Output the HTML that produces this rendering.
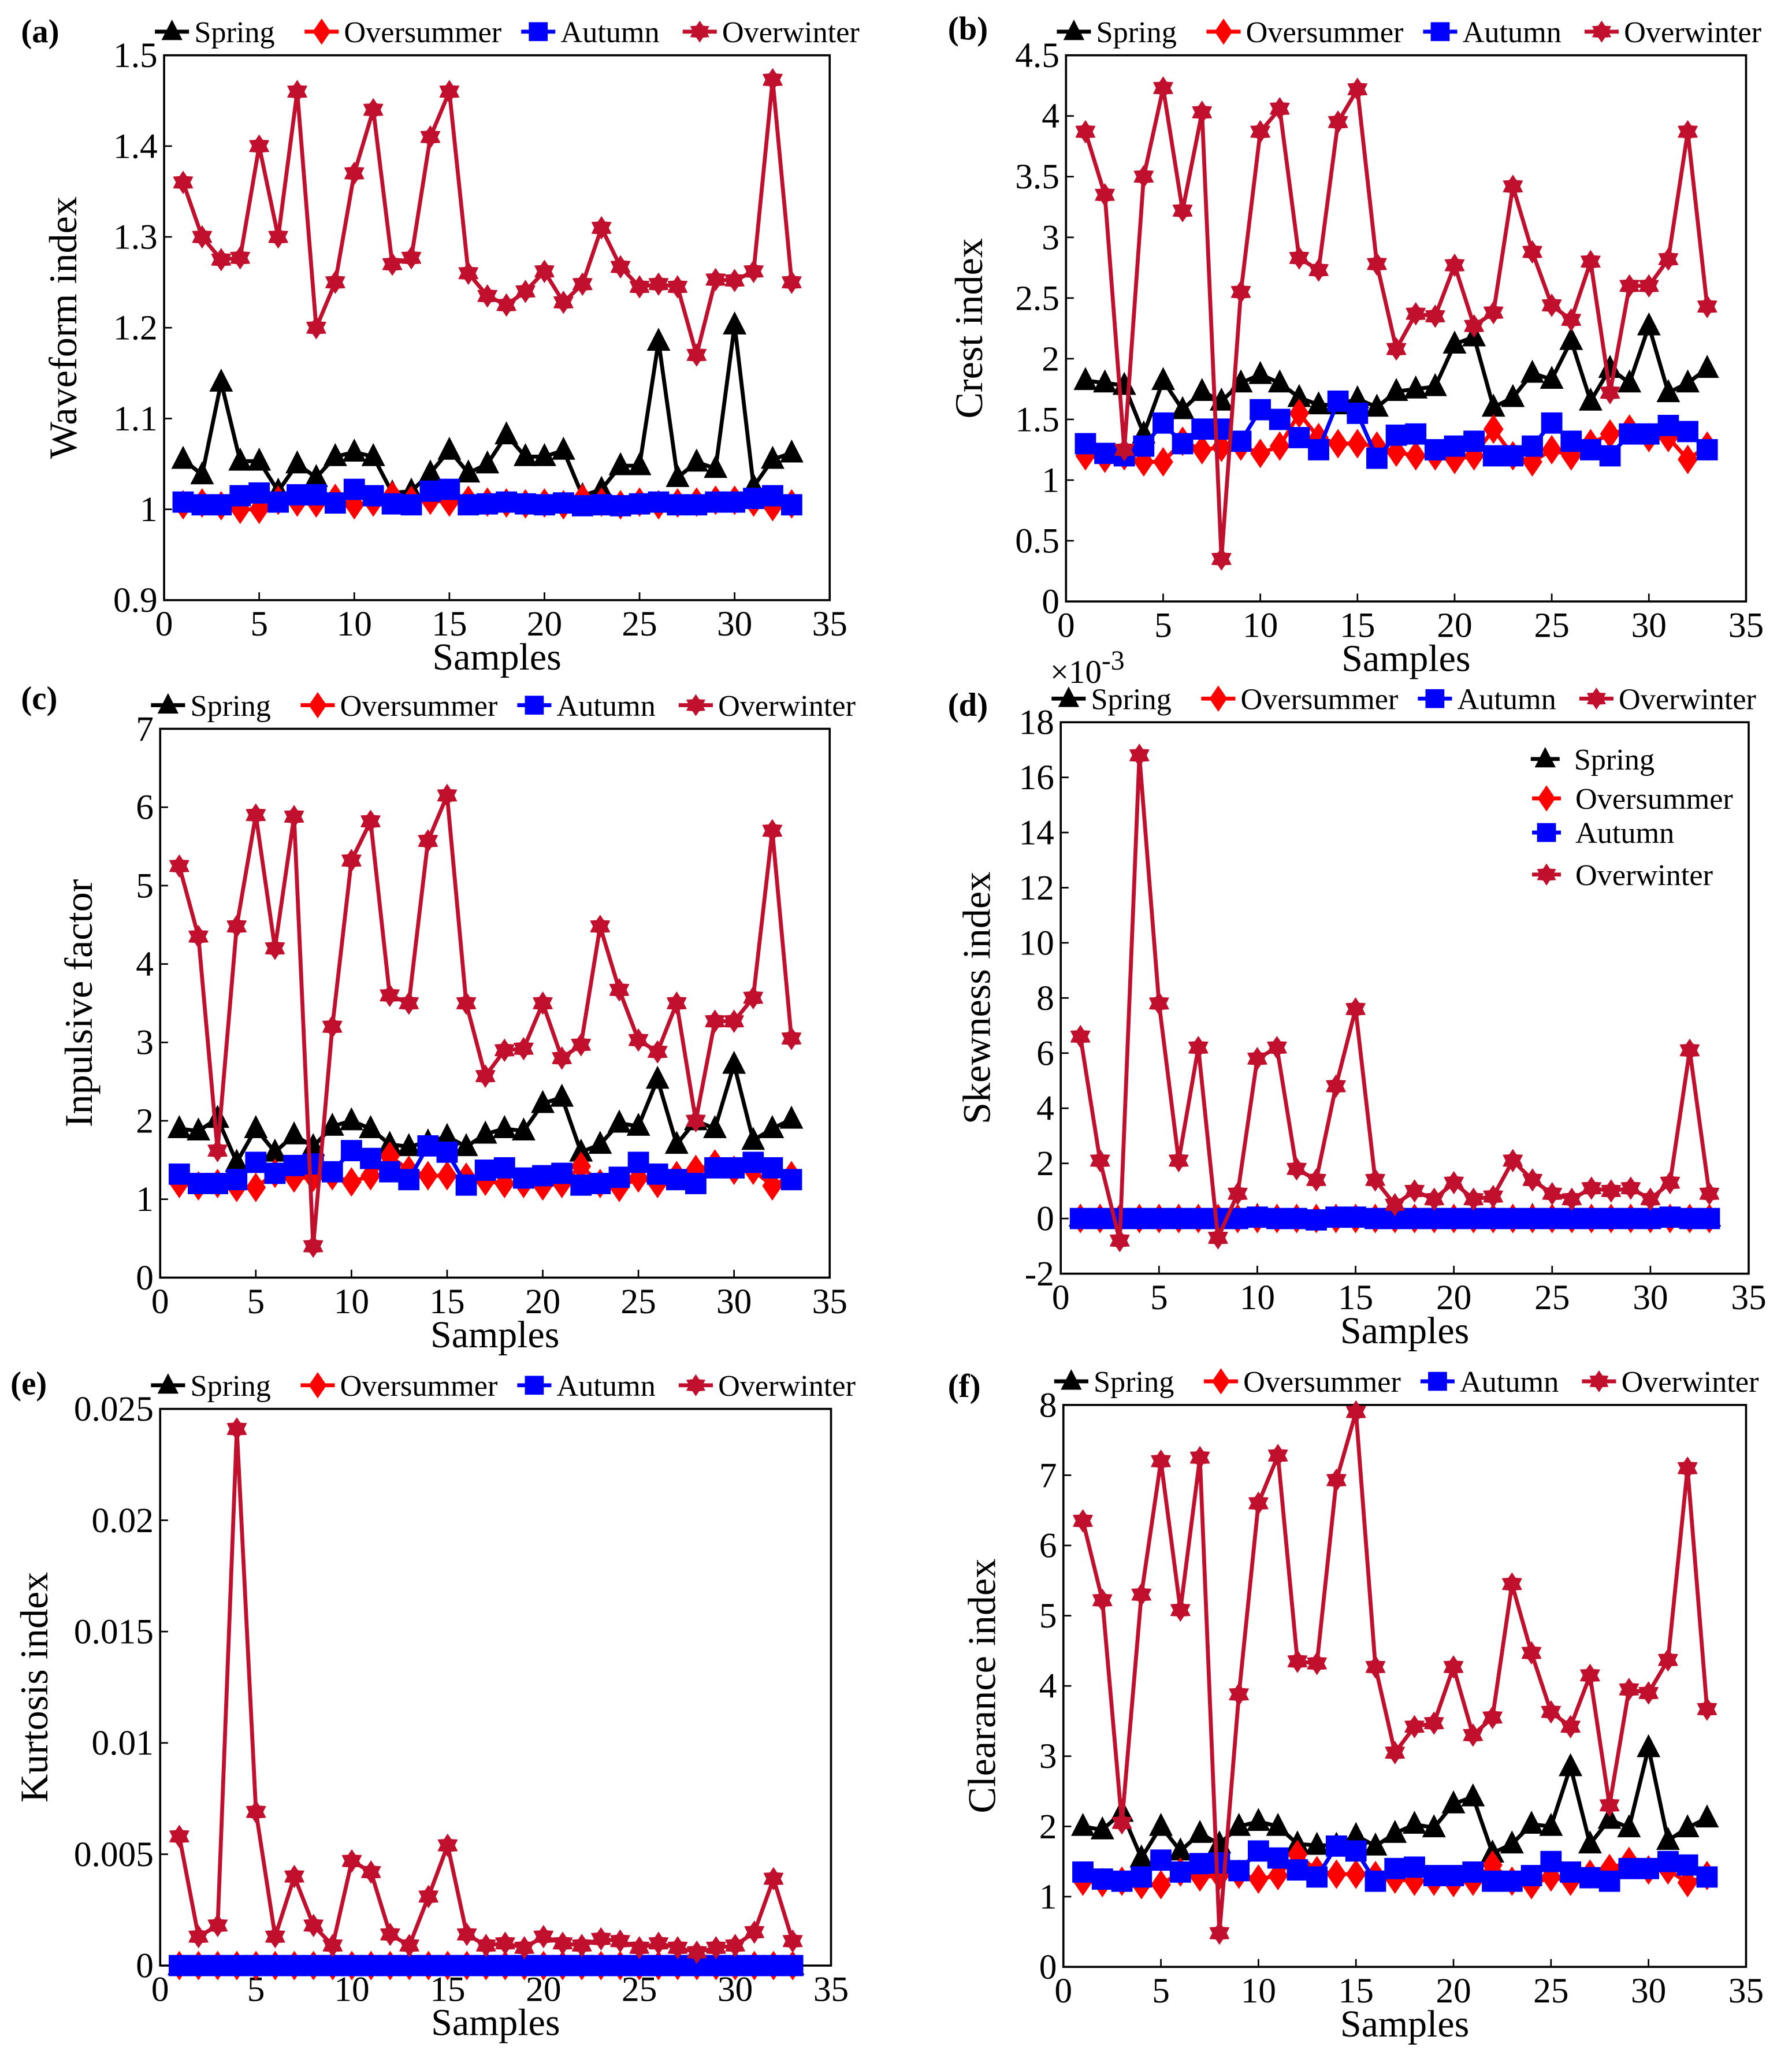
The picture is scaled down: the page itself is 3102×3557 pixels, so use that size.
<!DOCTYPE html>
<html><head><meta charset="utf-8">
<style>
html,body{margin:0;padding:0;background:#fff;}
svg{display:block;}
text{font-family:"Liberation Serif","Times New Roman",serif;fill:#000;}
</style></head>
<body>
<svg id="fig" width="3102" height="3557" viewBox="0 0 1365 1565" xmlns="http://www.w3.org/2000/svg"></svg>
<script>
const samples = Array.from({length:33},(_,i)=>i+1);
const xTicks = [0,5,10,15,20,25,30,35];
const seriesNames = ["Spring","Oversummer","Autumn","Overwinter"];

const aSpring=[1.055,1.038,1.14,1.053,1.053,1.02,1.05,1.035,1.058,1.063,1.058,1.018,1.02,1.04,1.065,1.04,1.05,1.082,1.058,1.058,1.065,1.015,1.022,1.048,1.048,1.185,1.035,1.052,1.045,1.203,1.025,1.055,1.062];
const aSummer=[1.005,1.007,1.004,1.0,1.0,1.01,1.008,1.007,1.012,1.005,1.008,1.015,1.01,1.01,1.008,1.01,1.008,1.007,1.006,1.007,1.005,1.012,1.008,1.005,1.008,1.005,1.007,1.008,1.01,1.01,1.008,1.003,1.006];
const aAutumn=[1.008,1.005,1.005,1.015,1.018,1.008,1.016,1.016,1.007,1.022,1.015,1.006,1.005,1.02,1.022,1.005,1.006,1.008,1.006,1.005,1.007,1.004,1.005,1.004,1.006,1.008,1.005,1.005,1.008,1.008,1.012,1.015,1.005];
const aWinter=[1.36,1.30,1.275,1.277,1.40,1.30,1.46,1.20,1.25,1.37,1.44,1.27,1.277,1.41,1.46,1.26,1.235,1.225,1.24,1.262,1.228,1.248,1.31,1.267,1.245,1.248,1.245,1.17,1.253,1.252,1.262,1.473,1.25];
const aTicks=[0.9,1,1.1,1.2,1.3,1.4,1.5];

const bSpring=[1.82,1.8,1.78,1.38,1.82,1.58,1.73,1.65,1.8,1.87,1.8,1.68,1.62,1.62,1.67,1.6,1.73,1.75,1.77,2.12,2.18,1.6,1.68,1.88,1.83,2.15,1.65,1.92,1.8,2.27,1.72,1.8,1.92];
const bSummer=[1.2,1.18,1.2,1.15,1.15,1.32,1.25,1.27,1.28,1.22,1.28,1.55,1.35,1.3,1.3,1.28,1.23,1.2,1.2,1.17,1.2,1.42,1.2,1.15,1.25,1.2,1.3,1.38,1.42,1.35,1.35,1.17,1.28];
const bAutumn=[1.3,1.22,1.2,1.28,1.47,1.3,1.42,1.42,1.32,1.58,1.5,1.35,1.25,1.65,1.55,1.18,1.37,1.38,1.25,1.28,1.32,1.2,1.2,1.28,1.47,1.32,1.25,1.2,1.38,1.38,1.45,1.4,1.25];
const bWinter=[3.87,3.35,1.25,3.5,4.23,3.22,4.03,0.35,2.55,3.87,4.06,2.83,2.73,3.95,4.22,2.78,2.08,2.37,2.35,2.77,2.27,2.38,3.42,2.88,2.44,2.32,2.8,1.72,2.6,2.6,2.82,3.87,2.43];
const bTicks=[0,0.5,1,1.5,2,2.5,3,3.5,4,4.5];

const cSpring=[1.9,1.87,2.03,1.47,1.9,1.6,1.82,1.67,1.93,2.0,1.9,1.7,1.67,1.73,1.8,1.67,1.83,1.9,1.87,2.22,2.3,1.6,1.7,1.97,1.93,2.53,1.7,2.0,1.9,2.72,1.75,1.9,2.02];
const cSummer=[1.2,1.17,1.2,1.15,1.15,1.33,1.27,1.28,1.3,1.22,1.3,1.55,1.37,1.3,1.3,1.28,1.23,1.2,1.2,1.17,1.2,1.42,1.2,1.15,1.27,1.2,1.3,1.38,1.45,1.37,1.37,1.17,1.3];
const cAutumn=[1.32,1.2,1.2,1.25,1.47,1.33,1.43,1.45,1.35,1.62,1.52,1.35,1.25,1.68,1.6,1.18,1.37,1.4,1.27,1.3,1.33,1.18,1.2,1.28,1.47,1.32,1.25,1.2,1.4,1.4,1.47,1.4,1.25];
const cWinter=[5.25,4.35,1.62,4.48,5.9,4.2,5.88,0.4,3.2,5.32,5.82,3.6,3.5,5.57,6.15,3.5,2.57,2.9,2.92,3.5,2.8,2.97,4.48,3.67,3.03,2.88,3.5,2.0,3.27,3.27,3.57,5.7,3.05];
const cTicks=[0,1,2,3,4,5,6,7];

const dSpring=[0.05,0.05,0.05,0.05,0.05,0.05,0.05,0.05,0.05,0.08,0.05,0.05,0.05,0.05,0.05,0.05,0.05,0.05,0.05,0.05,0.05,0.05,0.05,0.08,0.05,0.05,0.05,0.05,0.05,0.05,0.05,0.05,0.05];
const dSummer=[0,0,0,0,0,0,0,0,0,0,0,0,0,0,0,0,0,0,0,0,0,0,0,0,0,0,0,0,0,0,0,0,0];
const dAutumn=[0,0,0,0,0,0,0,0,0,0.05,0,0,-0.05,0.05,0.05,0,0,0,0,0,0,0,0,0,0,0,0,0,0,0,0.05,0,0];
const dWinter=[6.6,2.1,-0.8,16.8,7.8,2.1,6.2,-0.7,0.9,5.8,6.2,1.8,1.4,4.8,7.6,1.4,0.5,1.0,0.7,1.3,0.7,0.8,2.1,1.4,0.9,0.7,1.1,1.0,1.1,0.7,1.3,6.1,0.9];
const dTicks=[-2,0,2,4,6,8,10,12,14,16,18];

const eSpring=[0,0,0,0,0,0,0,0,0,0,0,0,0,0,0,0,0,0,0,0,0,0,0,0,0,0,0,0,0,0,0,0,0];
const eSummer=[0,0,0,0,0,0,0,0,0,0,0,0,0,0,0,0,0,0,0,0,0,0,0,0,0,0,0,0,0,0,0,0,0];
const eAutumn=[0,0,0,0,0,0,0,0,0,0,0,0,0,0,0,0,0,0,0,0,0,0,0,0,0,0,0,0,0,0,0,0,0];
const eWinter=[0.0058,0.0013,0.0018,0.0241,0.0069,0.0013,0.0040,0.0018,0.0009,0.0047,0.0042,0.0014,0.0009,0.0031,0.0054,0.0014,0.0009,0.0010,0.0008,0.0013,0.0010,0.0009,0.0012,0.0011,0.0008,0.0010,0.0008,0.0006,0.0008,0.0009,0.0015,0.0039,0.0011];
const eTicks=[0,0.005,0.01,0.015,0.02,0.025];

const fSpring=[2.0,1.95,2.2,1.55,2.0,1.65,1.9,1.75,2.0,2.07,2.0,1.75,1.73,1.73,1.87,1.72,1.9,2.03,1.98,2.32,2.42,1.62,1.75,2.03,2.0,2.85,1.75,2.1,1.98,3.12,1.8,1.98,2.12];
const fSummer=[1.22,1.2,1.22,1.17,1.17,1.35,1.28,1.3,1.32,1.25,1.3,1.6,1.37,1.32,1.32,1.3,1.25,1.22,1.22,1.2,1.22,1.45,1.22,1.17,1.28,1.22,1.32,1.4,1.5,1.38,1.38,1.2,1.3];
const fAutumn=[1.35,1.25,1.22,1.28,1.52,1.35,1.47,1.48,1.37,1.65,1.55,1.38,1.28,1.72,1.65,1.22,1.4,1.42,1.3,1.3,1.35,1.22,1.22,1.3,1.5,1.35,1.27,1.22,1.4,1.4,1.5,1.45,1.28];
const fWinter=[6.35,5.22,2.05,5.3,7.2,5.08,7.25,0.48,3.88,6.6,7.28,4.35,4.32,6.93,7.9,4.27,3.05,3.42,3.47,4.27,3.3,3.55,5.45,4.47,3.63,3.42,4.15,2.3,3.95,3.9,4.37,7.1,3.67];
const fTicks=[0,1,2,3,4,5,6,7,8];

const NS="http://www.w3.org/2000/svg";
const svg=document.getElementById('fig');
function mk(tag,attrs,parent){const e=document.createElementNS(NS,tag);for(const k in attrs)e.setAttribute(k,attrs[k]);(parent||svg).appendChild(e);return e;}
const colors=["#000000","#ff0000","#0000ff","#c0102e"];
const shapes=["tri","dia","sq","star"];

function marker(g,shape,x,y,c,s){
  let e;
  if(shape==="tri") e=mk('polygon',{points:`${x},${y-s*1.15} ${x-s},${y+s*0.8} ${x+s},${y+s*0.8}`,fill:c},g);
  else if(shape==="dia") e=mk('polygon',{points:`${x},${y-s*1.25} ${x+s*0.85},${y} ${x},${y+s*1.25} ${x-s*0.85},${y}`,fill:c},g);
  else if(shape==="sq") e=mk('rect',{x:x-s*0.9,y:y-s*0.9,width:s*1.8,height:s*1.8,fill:c},g);
  else { let p=[];for(let i=0;i<12;i++){const r=i%2?s*0.65:s*1.05;const a=Math.PI/6*i-Math.PI/2;p.push((x+r*Math.cos(a)).toFixed(2)+","+(y+r*Math.sin(a)).toFixed(2));} e=mk('polygon',{points:p.join(' '),fill:c},g);}
  return e;
}

function panel(cfg){
  const g=mk('g',{});
  
  
  const {L,R,T,B,ymin,ymax,ticks,fmt}=cfg;
  const xs=v=>L+(v-0)/35*(R-L);
  const ys=v=>B-(v-ymin)/(ymax-ymin)*(B-T);
  const box=mk('rect',{x:L,y:T,width:R-L,height:B-T,fill:'none',stroke:'#000','stroke-width':1.6},g);
  
  
  xTicks.forEach(t=>{
    mk('line',{x1:xs(t),x2:xs(t),y1:B,y2:B-6,stroke:'#000','stroke-width':1.2},g);
    const tx=mk('text',{x:xs(t),y:B+27,'font-size':27,'text-anchor':'middle'},g);tx.textContent=t;
    
    
  });
  ticks.forEach(t=>{
    mk('line',{x1:L,x2:L+6,y1:ys(t),y2:ys(t),stroke:'#000','stroke-width':1.2},g);
    const tx=mk('text',{x:L-5,y:ys(t)+9,'font-size':27,'text-anchor':'end'},g);tx.textContent=fmt?fmt(t):String(t);
    
    
  });
  const xt=mk('text',{x:(L+R)/2,y:B+53,'font-size':29,'text-anchor':'middle'},g);xt.textContent="Samples";
  
  
  const yt=mk('text',{x:0,y:0,'font-size':30,'text-anchor':'middle',transform:`translate(${cfg.ytx},${(T+B)/2}) rotate(-90)`},g);yt.textContent=cfg.ytitle;
  
  
  const pl=mk('text',{x:cfg.lx,y:cfg.ly,'font-size':25,'font-weight':'bold'},g);pl.textContent="("+cfg.id+")";
  
  
  cfg.series.forEach((vals,si)=>{
    const sg=mk('g',{},g);
    
    
    const pts=vals.map((v,i)=>xs(samples[i]).toFixed(2)+","+ys(v).toFixed(2)).join(' ');
    mk('polyline',{points:pts,fill:'none',stroke:colors[si],'stroke-width':3,'stroke-linejoin':'round'},sg);
    vals.forEach((v,i)=>{
      const m=marker(sg,shapes[si],xs(samples[i]),ys(v),colors[si],si===3?8.5:9);
      
      
    });
  });
  const offs=[-7,107,272,395];
  offs.forEach((o,si)=>{
    const lg=mk('g',{},g);
    
    
    const x0=L+o, y0=T-18;
    mk('line',{x1:x0,x2:x0+26,y1:y0,y2:y0,stroke:colors[si],'stroke-width':3},lg);
    marker(lg,shapes[si],x0+13,y0,colors[si],8);
    const tx=mk('text',{x:x0+30,y:y0+8,'font-size':23},lg);tx.textContent=seriesNames[si];
  });
  return {g,xs,ys};
}

panel({id:'a',L:125,R:632,T:42,B:457,ymin:0.9,ymax:1.5,ticks:aTicks,ytitle:'Waveform index',ytx:58,lx:16,ly:32,series:[aSpring,aSummer,aAutumn,aWinter]});
panel({id:'b',L:812,R:1330,T:42,B:458,ymin:0,ymax:4.5,ticks:bTicks,ytitle:'Crest index',ytx:748,lx:722,ly:30,series:[bSpring,bSummer,bAutumn,bWinter]});
panel({id:'c',L:122,R:632,T:555,B:973,ymin:0,ymax:7,ticks:cTicks,ytitle:'Inpulsive factor',ytx:70,lx:16,ly:540,series:[cSpring,cSummer,cAutumn,cWinter]});
panel({id:'d',L:808,R:1332,T:550,B:970,ymin:-2,ymax:18,ticks:dTicks,ytitle:'Skewness index',ytx:754,lx:722,ly:545,series:[dSpring,dSummer,dAutumn,dWinter]});
panel({id:'e',L:122,R:633,T:1073,B:1497,ymin:0,ymax:0.025,ticks:eTicks,ytitle:'Kurtosis index',ytx:36,lx:8,ly:1062,series:[eSpring,eSummer,eAutumn,eWinter]});
panel({id:'f',L:810,R:1330,T:1070,B:1498,ymin:0,ymax:8,ticks:fTicks,ytitle:'Clearance index',ytx:758,lx:722,ly:1064,series:[fSpring,fSummer,fAutumn,fWinter]});

const ex=mk('text',{x:800,y:520,'font-size':25});


ex.innerHTML='×10<tspan dy="-10" font-size="21">-3</tspan>';
const ilg=mk('g',{});


[[1177,578],[1178,608],[1178,634],[1178,666]].forEach((p,si)=>{
  marker(ilg,shapes[si],p[0],p[1],colors[si],8);
  mk('line',{x1:p[0]-11,x2:p[0]+11,y1:p[1],y2:p[1],stroke:colors[si],'stroke-width':3},ilg);
  const tx=mk('text',{x:p[0]+22,y:p[1]+8,'font-size':23},ilg);tx.textContent=seriesNames[si];
});
</script>
</body></html>
